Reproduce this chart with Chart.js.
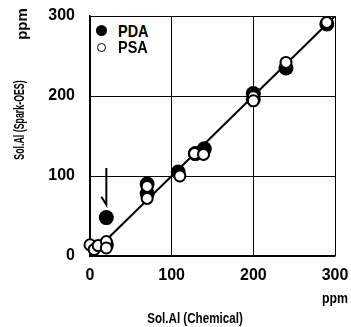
<!DOCTYPE html>
<html>
<head>
<meta charset="utf-8">
<script src="https://cdn.jsdelivr.net/npm/chart.js@4/dist/chart.umd.min.js"></script>
<style>
    html, body { margin: 0; padding: 0; background: #fff; }
    #wrap { position: relative; width: 351px; height: 327px; font-family: "Liberation Sans", Arial, sans-serif; font-weight: bold; color: #000; }
    #chart { position: absolute; left: 0; top: 0; }
    .lbl { position: absolute; white-space: nowrap; line-height: 1; }
    .box { position: absolute; white-space: nowrap; text-align: center; width: 160px; height: 16px; line-height: 16px; }
    #legend { position: absolute; left: 91px; top: 17px; width: 80px; height: 39px; background: #fff; }
    .dot { position: absolute; border-radius: 50%; box-sizing: border-box; }
</style>
</head>
<body>
<div id="wrap">
    <canvas id="chart" width="351" height="327"></canvas>
    <div id="legend">
        <div class="dot" style="left:5px; top:8px; width:11px; height:11px; background:#000;"></div>
        <div class="lbl" style="left:27px; top:6px; font-size:17px; transform-origin: left center; transform: scaleX(0.85);">PDA</div>
        <div class="dot" style="left:6px; top:26px; width:9px; height:9px; border:1.5px solid #000; background:#fff;"></div>
        <div class="lbl" style="left:27px; top:22px; font-size:17px; transform-origin: left center; transform: scaleX(0.85);">PSA</div>
    </div>
    <div class="lbl" style="left:322px; top:291px; font-size:14px; transform-origin: left center; transform: scaleX(0.88);">ppm</div>
    <!-- axis titles: 160px wide boxes centred on the wanted point -->
    <div class="box" style="left:115px; top:310px; font-size:14px; transform: scaleX(0.83);">Sol.Al (Chemical)</div>
    <div class="box" style="left:-58px; top:16px; font-size:15px; transform: rotate(-90deg);">ppm</div>
    <div class="box" style="left:-61px; top:112px; font-size:14px; transform: rotate(-90deg) scaleX(0.63);">Sol.Al (Spark-OES)</div>
</div>
<script>
// Sol.Al: Spark-OES vs chemical analysis (ppm)
const pdaX = [20, 20, 70, 70, 108, 129, 140, 200, 200, 240, 290];
const pdaY = [14, 48, 90, 78, 105, 128, 134, 203, 196, 235, 290];

const psaX = [0, 5, 10, 20, 20, 70, 70, 110, 128, 139, 200, 200, 240, 290];
const psaY = [14, 8, 13, 18, 10, 87, 72, 100, 128, 127, 199, 194, 242, 292];

const lineX = [0, 300];
const lineY = [0, 300];

const axisTicks = [0, 100, 200, 300];

// arrow pointing at the outlier (x, y from -> y to)
const arrowX = 20;
const arrowFrom = 110;
const arrowTo = 64;

function toPoints(xs, ys) {
    return xs.map((x, i) => ({ x: x, y: ys[i] }));
}

// stop the tick labels from pushing the plot area inwards
function noLabelPadding(s) {
    s.paddingLeft = 0;
    s.paddingRight = 0;
    s.paddingTop = 0;
    s.paddingBottom = 0;
}

const arrowPlugin = {
    id: 'arrow',
    afterDatasetsDraw(chart) {
        const xs = chart.scales.x;
        const ys = chart.scales.y;
        const ctx = chart.ctx;
        const px = xs.getPixelForValue(arrowX);
        const y1 = ys.getPixelForValue(arrowFrom);
        const y2 = ys.getPixelForValue(arrowTo);
        ctx.save();
        ctx.strokeStyle = '#000';
        ctx.lineWidth = 2;
        ctx.beginPath();
        ctx.moveTo(px, y1);
        ctx.lineTo(px, y2);
        ctx.lineTo(px - 5, y2 - 8);
        ctx.stroke();
        ctx.restore();
    }
};

new Chart(document.getElementById('chart'), {
    type: 'scatter',
    data: {
        datasets: [
            {
                label: 'PSA',
                data: toPoints(psaX, psaY),
                pointRadius: 5.5,
                pointBackgroundColor: '#fff',
                pointBorderColor: '#000',
                pointBorderWidth: 2,
                clip: false,
                order: 0
            },
            {
                label: 'PDA',
                data: toPoints(pdaX, pdaY),
                pointRadius: 7.5,
                pointBackgroundColor: '#000',
                pointBorderColor: '#000',
                pointBorderWidth: 0,
                clip: false,
                order: 1
            },
            {
                type: 'line',
                label: 'fit',
                data: toPoints(lineX, lineY),
                borderColor: '#000',
                borderWidth: 2,
                pointRadius: 0,
                fill: false,
                order: 2
            }
        ]
    },
    options: {
        responsive: false,
        animation: false,
        layout: { padding: { left: 30, right: 16, top: 16, bottom: 41 } },
        plugins: {
            legend: { display: false },
            tooltip: { enabled: false }
        },
        scales: {
            x: {
                type: 'linear',
                min: 0,
                max: 300,
                afterBuildTicks: (s) => { s.ticks = axisTicks.map(v => ({ value: v })); },
                afterFit: (s) => { s.height = 30; noLabelPadding(s); },
                grid: { color: '#000', lineWidth: 1, drawTicks: false },
                border: { color: '#000', width: 1.5 },
                ticks: {
                    padding: 10,
                    color: '#000',
                    font: { family: 'Liberation Sans', size: 16, weight: 'bold' }
                }
            },
            y: {
                type: 'linear',
                min: 0,
                max: 300,
                afterBuildTicks: (s) => { s.ticks = axisTicks.map(v => ({ value: v })); },
                afterFit: (s) => { s.width = 60; noLabelPadding(s); },
                grid: { color: '#000', lineWidth: 1, drawTicks: false },
                border: { color: '#000', width: 1.5 },
                ticks: {
                    padding: 15,
                    color: '#000',
                    font: { family: 'Liberation Sans', size: 16, weight: 'bold' }
                }
            }
        }
    },
    plugins: [arrowPlugin]
});
</script>
</body>
</html>
